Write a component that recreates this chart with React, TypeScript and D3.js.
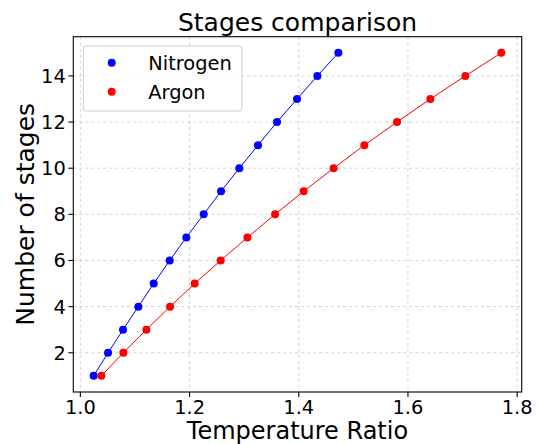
import React from "react";
import * as d3 from "d3";

const stages = [1, 2, 3, 4, 5, 6, 7, 8, 9, 10, 11, 12, 13, 14, 15];
const nitrogenRatio = [1.0244, 1.0507, 1.0781, 1.1062, 1.1343, 1.1636, 1.1941, 1.2259, 1.2577, 1.2912, 1.3254, 1.3602, 1.3968, 1.4341, 1.4725];
const argonRatio = [1.0385, 1.0788, 1.1209, 1.1643, 1.2094, 1.257, 1.3059, 1.3566, 1.409, 1.4639, 1.5201, 1.58, 1.641, 1.7051, 1.771];
const xTicks = [1.0, 1.2, 1.4, 1.6, 1.8];
const yTicks = [2, 4, 6, 8, 10, 12, 14];
const seriesNames = ["Nitrogen", "Argon"];
const seriesColors = ["#0000ff", "#ff0000"];

const W = 540, H = 444;
const L = 73.3, R = 521.7, T = 36.7, B = 392;
const FONT = "DejaVu Sans, sans-serif";

export default function App() {
  const allX = [...nitrogenRatio, ...argonRatio];
  const xmin = d3.min(allX)!, xmax = d3.max(allX)!;
  const xpad = 0.05 * (xmax - xmin);
  const ymin = d3.min(stages)!, ymax = d3.max(stages)!;
  const ypad = 0.05 * (ymax - ymin);
  const x = d3.scaleLinear().domain([xmin - xpad, xmax + xpad]).range([L, R]);
  const y = d3.scaleLinear().domain([ymin - ypad, ymax + ypad]).range([B, T]);
  const series = [nitrogenRatio, argonRatio];
  const line = d3.line<[number, number]>().x(d => x(d[0])).y(d => y(d[1]));

  return (
    <svg width={W} height={H} style={{ position: "absolute", left: 0, top: 0, background: "#fff" }} fontFamily={FONT}>
      <rect x={0} y={0} width={W} height={H} fill="#fff" />
      {/* grid */}
      {xTicks.map(t => (
        <line key={"gx" + t} x1={x(t)} x2={x(t)} y1={T} y2={B} stroke="#b0b0b0" strokeOpacity={0.7} strokeWidth={0.8} strokeDasharray="3,3" />
      ))}
      {yTicks.map(t => (
        <line key={"gy" + t} x1={L} x2={R} y1={y(t)} y2={y(t)} stroke="#b0b0b0" strokeOpacity={0.7} strokeWidth={0.8} strokeDasharray="3,3" />
      ))}
      {/* series */}
      {series.map((s, i) => {
        const pts: [number, number][] = s.map((v, j) => [v, stages[j]]);
        return (
          <g key={"s" + i}>
            <path d={line(pts)!} fill="none" stroke={seriesColors[i]} strokeWidth={1} />
            {pts.map((p, j) => (
              <circle key={j} cx={x(p[0])} cy={y(p[1])} r={4} fill={seriesColors[i]} />
            ))}
          </g>
        );
      })}
      {/* spines */}
      <rect x={L} y={T} width={R - L} height={B - T} fill="none" stroke="#000" strokeWidth={1.1} />
      {/* x ticks */}
      {xTicks.map(t => (
        <g key={"xt" + t}>
          <line x1={x(t)} x2={x(t)} y1={B} y2={B + 4.9} stroke="#000" strokeWidth={1.1} />
          <text x={x(t)} y={B + 21.5} textAnchor="middle" fontSize={19.4} fill="#000">{t.toFixed(1)}</text>
        </g>
      ))}
      {/* y ticks */}
      {yTicks.map(t => (
        <g key={"yt" + t}>
          <line x1={L - 4.9} x2={L} y1={y(t)} y2={y(t)} stroke="#000" strokeWidth={1.1} />
          <text x={L - 7.5} y={y(t)} dy="0.36em" textAnchor="end" fontSize={19.4} fill="#000">{t}</text>
        </g>
      ))}
      {/* labels */}
      <text x={(L + R) / 2} y={31} textAnchor="middle" fontSize={25} fill="#000">Stages comparison</text>
      <text x={(L + R) / 2} y={439} textAnchor="middle" fontSize={24} fill="#000">Temperature Ratio</text>
      <text transform={`translate(33.5,${(T + B) / 2}) rotate(-90)`} textAnchor="middle" fontSize={25} fill="#000">Number of stages</text>
      {/* legend */}
      <g>
        <rect x={83.3} y={46} width={158.7} height={65} rx={3} fill="#fff" fillOpacity={0.8} stroke="#cccccc" strokeWidth={1} />
        {seriesNames.map((n, i) => (
          <g key={"lg" + i}>
            <circle cx={111.7} cy={62.7 + i * 29} r={4} fill={seriesColors[i]} />
            <text x={148.3} y={62.7 + i * 29} dy="0.36em" fontSize={19.4} fill="#000">{n}</text>
          </g>
        ))}
      </g>
    </svg>
  );
}
